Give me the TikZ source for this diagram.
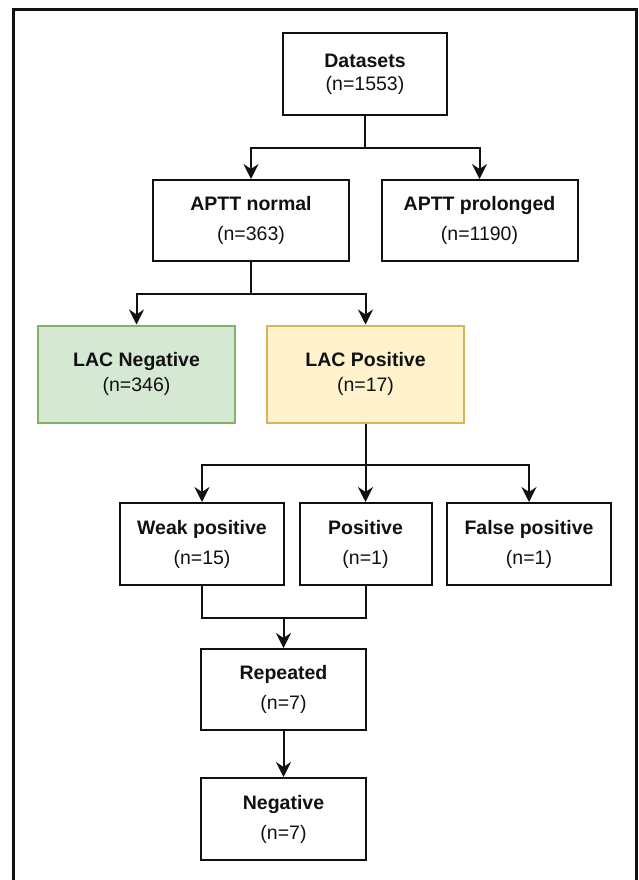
\documentclass[tikz,border=0pt]{standalone}
\usepackage{fontspec}
\setmainfont{Liberation Sans}
\usetikzlibrary{arrows.meta,calc}
\definecolor{gfill}{HTML}{D5E8D4}
\definecolor{gline}{HTML}{82B366}
\definecolor{yfill}{HTML}{FFF2CC}
\definecolor{yline}{HTML}{D6B656}
\definecolor{ink}{HTML}{111111}
\begin{document}
\begin{tikzpicture}[x=1pt,y=-1pt,
  box/.style={draw=ink,line width=2pt,fill=white,align=center,inner sep=0pt,
    font=\fontsize{19.5}{23}\selectfont,text=ink},
  greenbox/.style={box,draw=gline,fill=gfill},
  yellowbox/.style={box,draw=yline,fill=yfill},
  link/.style={draw=ink,line width=2pt},
  arr/.style={link,-{Stealth[length=15pt,width=15pt,inset=5pt]}}]
\useasboundingbox (0,0) rectangle (638,880);
\draw[line width=3pt,ink] (13,885) -- (13,10) -- (636,10) -- (636,885);

\node[box,minimum width=164pt,minimum height=82pt] (ds) at (365,74) {\textbf{Datasets}\\(n=1553)};
\node[box,minimum width=196pt,minimum height=81pt] (an) at (251,220.5) {\textbf{APTT normal}\\[7pt](n=363)};
\node[box,minimum width=196pt,minimum height=81pt] (ap) at (479.5,220.5) {\textbf{APTT prolonged}\\[7pt](n=1190)};
\node[greenbox,minimum width=197pt,minimum height=97pt] (ln) at (136.5,374) {\textbf{LAC Negative}\\[2pt](n=346)};
\node[yellowbox,minimum width=197pt,minimum height=97pt] (lp) at (365.5,374) {\textbf{LAC Positive}\\[2pt](n=17)};
\node[box,minimum width=164pt,minimum height=82pt] (wp) at (202,544) {\textbf{Weak positive}\\[7pt](n=15)};
\node[box,minimum width=132pt,minimum height=82pt] (po) at (365.5,544) {\textbf{Positive}\\[7pt](n=1)};
\node[box,minimum width=164pt,minimum height=82pt] (fp) at (529,544) {\textbf{False positive}\\[7pt](n=1)};
\node[box,minimum width=165pt,minimum height=81pt] (rep) at (283.5,689.5) {\textbf{Repeated}\\[7pt](n=7)};
\node[box,minimum width=165pt,minimum height=82pt] (neg) at (283.5,819) {\textbf{Negative}\\[7pt](n=7)};

\draw[arr] (ds.south) -- ++(0,32) -| (an.north);
\draw[arr] (ds.south) -- ++(0,32) -| (ap.north);
\draw[arr] (an.south) -- ++(0,32) -| (ln.north);
\draw[arr] (an.south) -- ++(0,32) -| (lp.north);
\draw[arr] (lp.south) -- ++(0,41) -| (wp.north);
\draw[arr] (lp.south) -- (po.north);
\draw[arr] (lp.south) -- ++(0,41) -| (fp.north);
\coordinate (j) at ($(wp.south)+(0,32)$);
\draw[link] (wp.south) -- (j) -| (po.south);
\draw[arr] (j -| rep.north) -- (rep.north);
\draw[arr] (rep.south) -- (neg.north);
\end{tikzpicture}
\end{document}
